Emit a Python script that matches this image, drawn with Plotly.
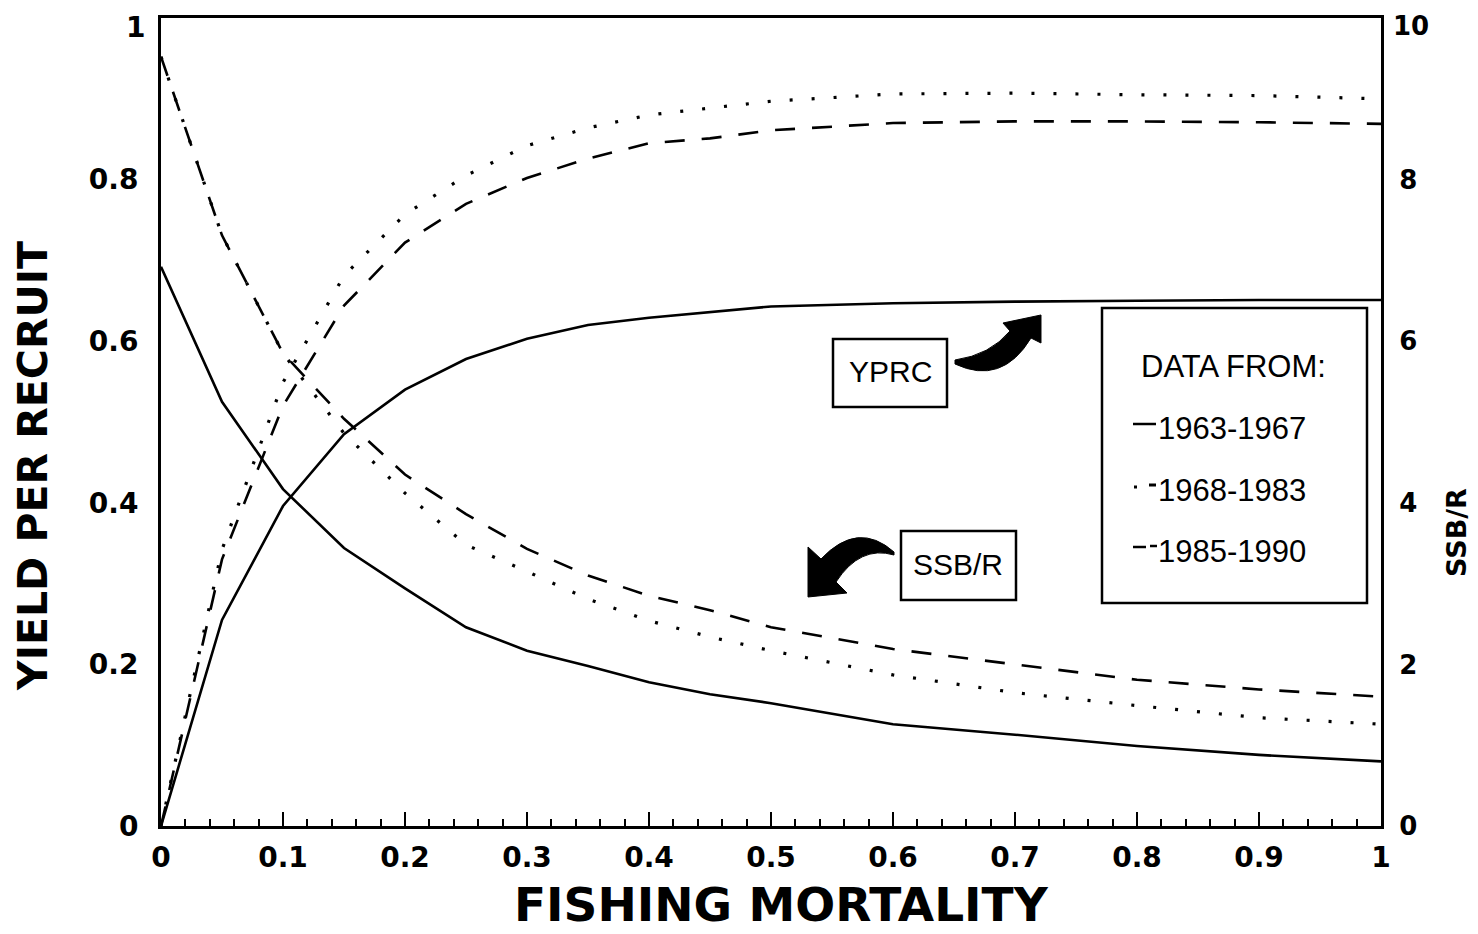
import plotly.graph_objects as go

# ---------------- data ----------------
F = [0, 0.05, 0.1, 0.15, 0.2, 0.25, 0.3, 0.35, 0.4, 0.45, 0.5, 0.6, 0.7, 0.8, 0.9, 1.0]

# Yield per recruit (left axis)
ypr_6367 = [0, 0.255, 0.396, 0.485, 0.540, 0.578, 0.603, 0.620, 0.629, 0.636, 0.643, 0.647, 0.649, 0.650, 0.651, 0.651]
ypr_6883 = [0, 0.342, 0.549, 0.681, 0.757, 0.805, 0.842, 0.864, 0.880, 0.889, 0.897, 0.906, 0.907, 0.905, 0.904, 0.900]
ypr_8590 = [0, 0.330, 0.520, 0.644, 0.722, 0.770, 0.802, 0.826, 0.845, 0.851, 0.861, 0.870, 0.872, 0.872, 0.871, 0.869]

# SSB per recruit (right axis)
ssb_6367 = [6.92, 5.25, 4.17, 3.44, 2.94, 2.46, 2.17, 1.98, 1.78, 1.63, 1.52, 1.26, 1.13, 0.99, 0.88, 0.80]
ssb_6883 = [9.52, 7.31, 5.85, 4.86, 4.12, 3.48, 3.15, 2.81, 2.54, 2.34, 2.17, 1.87, 1.65, 1.49, 1.34, 1.26]
ssb_8590 = [9.52, 7.31, 5.85, 5.04, 4.35, 3.86, 3.43, 3.10, 2.85, 2.67, 2.46, 2.19, 2.00, 1.81, 1.69, 1.60]

periods = ["1963-1967", "1968-1983", "1985-1990"]

# axis tick values (top tick written separately so it stays inside the page)
ypr_ticks = [0, 0.2, 0.4, 0.6, 0.8]
ypr_top = 1
ssb_ticks = [0, 2, 4, 6, 8]
ssb_top = 10

# ---------------- styling ----------------
OFF = 8                      # page body margin
W, H = 1478 - OFF, 934 - OFF
PL, PR, PT, PB = 161, 1381, 18, 826   # plot area in screenshot pixels
SOLID = "solid"
DOT = "3px,19px"
DASH = "20px,17px"
styles = [(SOLID, 2.6), (DOT, 3.2), (DASH, 2.6)]
FONT_AX = "DejaVu Sans"
FONT_TX = "Liberation Sans"


def px(x):
    return (x - PL) / (PR - PL)


def py(y):
    return (PB - y) / (PB - PT)


fig = go.Figure()

for ys, (dash, w), name in zip([ypr_6367, ypr_6883, ypr_8590], styles, periods):
    fig.add_trace(go.Scatter(x=F, y=ys, mode="lines", name=name, showlegend=False,
                             line=dict(color="black", width=w, dash=dash), yaxis="y"))
for ys, (dash, w), name in zip([ssb_6367, ssb_6883, ssb_8590], styles, periods):
    fig.add_trace(go.Scatter(x=F, y=ys, mode="lines", name=name, showlegend=False,
                             line=dict(color="black", width=w, dash=dash), yaxis="y2"))

shapes = []
annotations = []


def box(x0, y0, x1, y1, w=2.5):
    shapes.append(dict(type="rect", xref="paper", yref="paper",
                       x0=px(x0), x1=px(x1), y0=py(y1), y1=py(y0),
                       line=dict(color="black", width=w), fillcolor="white", layer="above"))


def text(x, y, s, size=30, anchor="center", family=FONT_TX, weight="normal"):
    annotations.append(dict(x=px(x), y=py(y), xref="paper", yref="paper", text=s,
                            showarrow=False, xanchor=anchor, yanchor="middle",
                            font=dict(family=family, size=size, color="black", weight=weight)))


box(833, 339, 947, 407)
text(890, 372, "YPRC", size=30)
box(901, 531, 1016, 600)
text(958, 564, "SSB/R", size=30)
box(1102, 308, 1367, 603)
text(1233, 366, "DATA FROM:", size=31)

legend_y = [428, 490, 551]
for (dash, w), lab, yy in zip(styles, periods, legend_y):
    if dash == SOLID:
        shapes.append(dict(type="line", xref="paper", yref="paper", x0=px(1133), x1=px(1156),
                           y0=py(yy - 4), y1=py(yy - 4), line=dict(color="black", width=2.5)))
    elif dash == DOT:
        shapes.append(dict(type="line", xref="paper", yref="paper", x0=px(1134), x1=px(1137),
                           y0=py(yy - 3), y1=py(yy - 3), line=dict(color="black", width=3)))
        shapes.append(dict(type="line", xref="paper", yref="paper", x0=px(1149), x1=px(1156),
                           y0=py(yy - 5), y1=py(yy - 5), line=dict(color="black", width=3)))
    else:
        shapes.append(dict(type="line", xref="paper", yref="paper", x0=px(1133), x1=px(1146),
                           y0=py(yy - 4), y1=py(yy - 4), line=dict(color="black", width=2.5)))
        shapes.append(dict(type="line", xref="paper", yref="paper", x0=px(1150), x1=px(1157),
                           y0=py(yy - 5), y1=py(yy - 5), line=dict(color="black", width=2.5)))
    text(1156, yy, lab, size=31, anchor="left")


def path(cmds):
    out = []
    for c in cmds:
        if isinstance(c, str):
            out.append(c)
        else:
            out.append(f"{px(c[0]):.5f},{py(c[1]):.5f}")
    return " ".join(out)


# curved arrow from YPRC box (up-right)
arrow1 = path(["M", (955, 360), "Q", (990, 355), (1010, 331), "L", (1003, 323), "L", (1041, 315),
               "L", (1041, 343), "L", (1031, 338), "Q", (1002, 386), (955, 364), "Z"])
# curved arrow from SSB/R box (down-left)
arrow2 = path(["M", (894, 552), "Q", (858, 520), (821, 559), "L", (808, 547), "L", (808, 597),
               "L", (847, 593), "L", (836, 582), "Q", (860, 545), (894, 555), "Z"])
for p in (arrow1, arrow2):
    shapes.append(dict(type="path", xref="paper", yref="paper", path=p,
                       fillcolor="black", line=dict(color="black", width=1)))

# axis titles
annotations.append(dict(x=px(781), y=py(904), xref="paper", yref="paper", text="FISHING MORTALITY",
                        showarrow=False, xanchor="center", yanchor="middle",
                        font=dict(family=FONT_AX, size=47, color="black", weight="bold")))
annotations.append(dict(x=px(33), y=py(466), xref="paper", yref="paper", text="YIELD PER RECRUIT",
                        showarrow=False, xanchor="center", yanchor="middle", textangle=-90,
                        font=dict(family=FONT_AX, size=41, color="black", weight="bold")))
annotations.append(dict(x=px(1456), y=py(532), xref="paper", yref="paper", text="SSB/R",
                        showarrow=False, xanchor="center", yanchor="middle", textangle=-90,
                        font=dict(family=FONT_AX, size=27, color="black", weight="bold")))

tickfont = dict(family=FONT_AX, size=28, color="black", weight="bold")
tickfont2 = dict(family=FONT_AX, size=26, color="black", weight="bold")

# top tick labels of both y axes, kept just inside the page
annotations.append(dict(x=px(PL - 14), y=py(OFF + 1), xref="paper", yref="paper", text=str(ypr_top),
                        showarrow=False, xanchor="right", yanchor="top", font=tickfont))
annotations.append(dict(x=px(PR + 10), y=py(OFF + 1), xref="paper", yref="paper", text=str(ssb_top),
                        showarrow=False, xanchor="left", yanchor="top", font=tickfont2))

fig.update_layout(
    width=W, height=H,
    margin=dict(l=PL - OFF, r=(OFF + W) - PR, t=PT - OFF, b=(OFF + H) - PB, autoexpand=False),
    paper_bgcolor="white", plot_bgcolor="white",
    showlegend=False,
    shapes=shapes, annotations=annotations,
    xaxis=dict(range=[0, 1], dtick=0.1, tick0=0, showgrid=False, zeroline=False, automargin=False,
               showline=True, linecolor="black", linewidth=3, mirror=True,
               ticks="inside", ticklen=14, tickwidth=2, tickcolor="black",
               minor=dict(dtick=0.02, ticks="inside", ticklen=7, tickwidth=2, tickcolor="black"),
               tickfont=tickfont, ticklabelstandoff=4, ticklabeloverflow="allow"),
    yaxis=dict(range=[0, 1], tickmode="array", tickvals=ypr_ticks, showgrid=False, zeroline=False,
               automargin=False, showline=True, linecolor="black", linewidth=3, ticks="",
               tickfont=tickfont, ticklabelstandoff=14, ticklabeloverflow="allow"),
    yaxis2=dict(range=[0, 10], tickmode="array", tickvals=ssb_ticks, overlaying="y", side="right",
                automargin=False, showgrid=False, zeroline=False, showline=True, linecolor="black",
                linewidth=3, ticks="", tickfont=tickfont2,
                ticklabelstandoff=10, ticklabeloverflow="allow"),
)

fig.write_html("out.html")
